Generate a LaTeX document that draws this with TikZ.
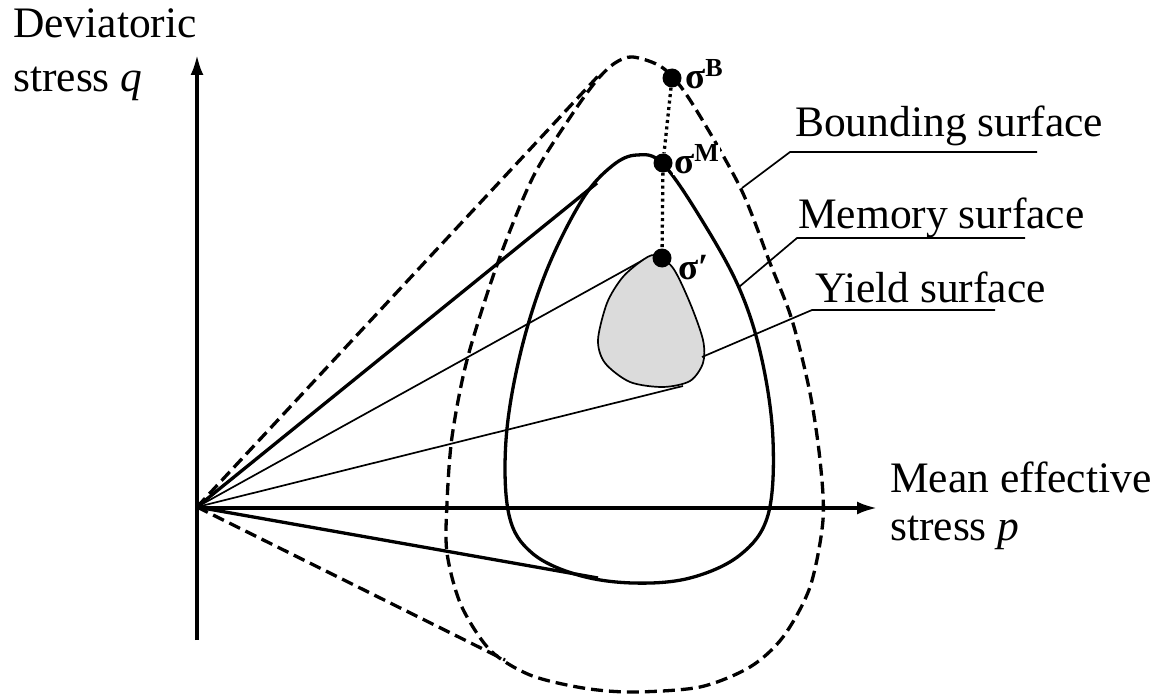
\documentclass[tikz,border=0pt]{standalone}
\usepackage{fontspec}
\setmainfont{Liberation Serif}
\usetikzlibrary{arrows.meta}
\begin{document}
\begin{tikzpicture}[x=1pt,y=-1pt,
  axis/.style={line width=3.3pt,-{Latex[length=20pt,width=13pt]}},
  bsurf/.style={line width=3.3pt,dash pattern=on 12pt off 6pt},
  msurf/.style={line width=3.3pt},
  ysurf/.style={line width=1.7pt,fill=black!14},
  thinline/.style={line width=1.7pt},
  leader/.style={line width=1.7pt},
  dotline/.style={line width=3.3pt,dash pattern=on 3pt off 3.5pt},
  sdot/.style={circle,fill=black,minimum size=19pt,inner sep=0pt},
  lbl/.style={anchor=base west,inner sep=0pt,font=\fontsize{43.5}{48}\selectfont},
  slbl/.style={anchor=base west,inner sep=0pt,font=\bfseries\fontsize{37}{37}\selectfont},
]
\useasboundingbox (0,0) rectangle (1161,695);
\fill[white] (0,0) rectangle (1161,695);

% axes
\coordinate (O) at (197,507);
\coordinate (ybot) at (197,640);
\coordinate (ytop) at (197,55);
\coordinate (xend) at (877,508);
\draw[axis] (ybot) -- (ytop);
\draw[axis] (197,508) -- (xend);

% axis labels
\node[lbl] (dev) at (13,38) {Deviatoric};
\node[lbl] (stq) at (13,92) {stress \textit{q}};
\node[lbl] (mean) at (890,492) {Mean effective};
\node[lbl] (stp) at (890,540) {stress \textit{p}};

% tangent points
\coordinate (bt1) at (600,74);
\coordinate (bt2) at (505,660);
\coordinate (mt1) at (597,183);
\coordinate (mt2) at (598,578);
\coordinate (yt1) at (645,259);
\coordinate (yt2) at (683,386);

% bounding surface
\draw[bsurf] plot[smooth cycle] coordinates {
  (633,57) (663,68) (690,100) (740,187) (770,263) (792,320) (810,393)
  (820,460) (823,520) (810,587) (783,637) (750,667) (700,687) (633,692)
  (583,688) (530,675) (490,650) (461,605) (447,553) (447,503) (452,437)
  (467,360) (497,265) (533,177) (573,113) (597,80) (615,63)};
\draw[bsurf] (O) -- (bt1);
\draw[bsurf] (O) -- (bt2);

% memory surface
\draw[msurf] plot[smooth cycle,tension=0.6] coordinates {
  (637,155) (663,164) (703,222) (740,290) (762,360) (773,440) (768,515)
  (740,555) (690,578) (633,583) (578,575) (532,553) (509,515) (506,440)
  (520,355) (546,272) (582,200) (612,166)};
\draw[msurf] (O) -- (mt1);
\draw[msurf] (O) -- (mt2);

% yield surface
\draw[thinline] (O) -- (yt1);
\draw[thinline] (O) -- (yt2);
\draw[ysurf] plot[smooth cycle] coordinates {
  (655,255) (673,268) (690,303) (703,340) (703,363) (690,381) (663,387)
  (630,382) (605,363) (598,340) (607,303) (622,278) (640,262)};

% leaders
\coordinate (lb0) at (742,188);
\coordinate (lb1) at (790,152);
\coordinate (lb2) at (1037,152);
\coordinate (lm0) at (739,287);
\coordinate (lm1) at (797,238);
\coordinate (lm2) at (1025,238);
\coordinate (ly0) at (702,357);
\coordinate (ly1) at (812,310);
\coordinate (ly2) at (995,310);
\draw[leader] (lb0) -- (lb1) -- (lb2);
\draw[leader] (lm0) -- (lm1) -- (lm2);
\draw[leader] (ly0) -- (ly1) -- (ly2);
\node[lbl] (tb) at (795,137) {Bounding surface};
\node[lbl] (tm) at (798,228) {Memory surface};
\node[lbl] (ty) at (815,302) {Yield surface};

% stress points
\node[sdot] (sB) at (672,78) {};
\node[sdot] (sM) at (663,163) {};
\node[sdot] (sY) at (662,258) {};
\draw[dotline] (sB) -- (sM);
\draw[dotline] (sM) -- (sY);
\node[slbl] (lsB) at (685,89) {σ\raisebox{12pt}{\fontsize{26}{26}\selectfont B}};
\node[slbl,fill=white,inner sep=1pt] (lsM) at (673,174) {σ\raisebox{12pt}{\fontsize{26}{26}\selectfont M}};
\node[slbl] (lsY) at (678,279) {σ′};
\end{tikzpicture}
\end{document}
